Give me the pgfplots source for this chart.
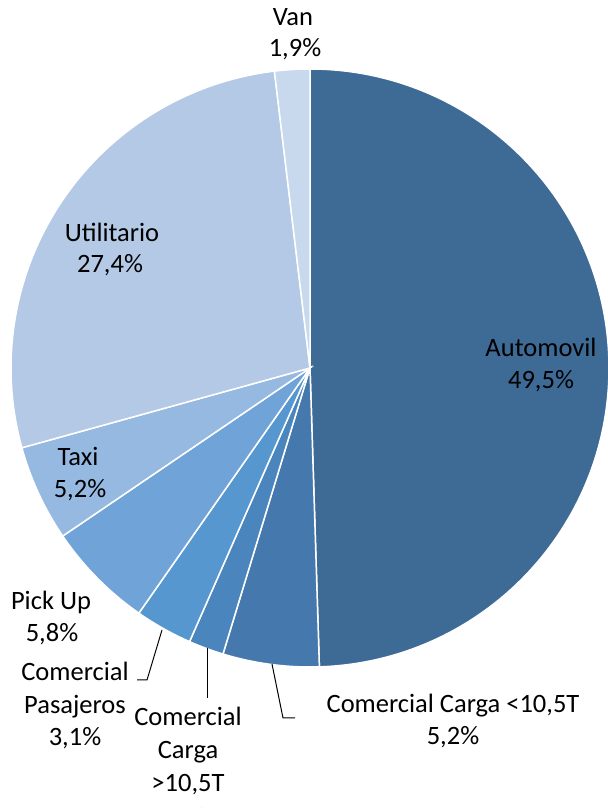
\documentclass[border=0pt]{standalone}
\usepackage{pgfplots}
\usepackage{pgfplotstable}
\pgfplotsset{compat=1.18}
\usepackage{fontspec}
\setmainfont{Carlito}

\definecolor{cA}{RGB}{62,106,150}
\definecolor{cB}{RGB}{69,121,174}
\definecolor{cC}{RGB}{75,133,190}
\definecolor{cD}{RGB}{86,151,208}
\definecolor{cE}{RGB}{112,164,216}
\definecolor{cF}{RGB}{149,185,225}
\definecolor{cG}{RGB}{180,201,229}
\definecolor{cH}{RGB}{200,217,238}

\tikzset{lab/.style={anchor=base, inner sep=0pt, font=\fontsize{26.5bp}{31bp}\selectfont, text=black}}

\pgfplotstableread{
label value
Automovil 49.5
CargaMenor 5.2
CargaMayor 1.9
Pasajeros 3.1
PickUp 5.8
Taxi 5.2
Utilitario 27.4
Van 1.9
}\piedata

% cumulative angles (clockwise from 12 o'clock)
\def\aA{0}
\pgfplotstablegetelem{0}{value}\of\piedata \pgfmathsetmacro\aB{\aA+3.6*\pgfplotsretval}
\pgfplotstablegetelem{1}{value}\of\piedata \pgfmathsetmacro\aC{\aB+3.6*\pgfplotsretval}
\pgfplotstablegetelem{2}{value}\of\piedata \pgfmathsetmacro\aD{\aC+3.6*\pgfplotsretval}
\pgfplotstablegetelem{3}{value}\of\piedata \pgfmathsetmacro\aE{\aD+3.6*\pgfplotsretval}
\pgfplotstablegetelem{4}{value}\of\piedata \pgfmathsetmacro\aF{\aE+3.6*\pgfplotsretval}
\pgfplotstablegetelem{5}{value}\of\piedata \pgfmathsetmacro\aG{\aF+3.6*\pgfplotsretval}
\pgfplotstablegetelem{6}{value}\of\piedata \pgfmathsetmacro\aH{\aG+3.6*\pgfplotsretval}
\pgfplotstablegetelem{7}{value}\of\piedata \pgfmathsetmacro\aI{\aH+3.6*\pgfplotsretval}

\def\cx{310}
\def\cy{440}
\def\R{299}

\newcommand\sector[3]{% color, from, to
  \fill[#1, draw=white, line width=1.5bp]
    (axis cs:\cx,\cy) -- (axis cs:{\cx+\R*sin(#2)},{\cy+\R*cos(#2)})
    arc[start angle={90-#2}, end angle={90-#3}, radius=\R bp] -- cycle;
}

\begin{document}
\begin{tikzpicture}
\useasboundingbox (0,0) rectangle (608bp,808bp);
\begin{axis}[
  at={(0,0)}, anchor=origin,
  x=1bp, y=1bp,
  xmin=0, xmax=608, ymin=0, ymax=808,
  hide axis, clip=false,
]
\sector{cA}{\aA}{\aB}
\sector{cB}{\aB}{\aC}
\sector{cC}{\aC}{\aD}
\sector{cD}{\aD}{\aE}
\sector{cE}{\aE}{\aF}
\sector{cF}{\aF}{\aG}
\sector{cG}{\aG}{\aH}
\sector{cH}{\aH}{\aI}

% leader lines
\draw[black, line width=1bp] (axis cs:272,{808-664}) -- (axis cs:283,{808-718}) -- (axis cs:295,{808-718});
\draw[black, line width=1bp] (axis cs:207,{808-648}) -- (axis cs:207,{808-698});
\draw[black, line width=1bp] (axis cs:162,{808-630}) -- (axis cs:147,{808-680}) -- (axis cs:137,{808-680});

% labels
\node[lab] at (axis cs:293,{808-26}) {Van};
\node[lab] at (axis cs:295,{808-57}) {1,9\%};
\node[lab] at (axis cs:112,{808-242}) {Utilitario};
\node[lab] at (axis cs:110,{808-273}) {27,4\%};
\node[lab] at (axis cs:541,{808-357}) {Automovil};
\node[lab] at (axis cs:541,{808-389}) {49,5\%};
\node[lab] at (axis cs:78,{808-465}) {Taxi};
\node[lab] at (axis cs:80,{808-497}) {5,2\%};
\node[lab] at (axis cs:51,{808-609}) {Pick Up};
\node[lab] at (axis cs:52,{808-641}) {5,8\%};
\node[lab] at (axis cs:75,{808-680}) {Comercial};
\node[lab] at (axis cs:75,{808-713}) {Pasajeros};
\node[lab] at (axis cs:75,{808-745}) {3,1\%};
\node[lab] at (axis cs:188,{808-725}) {Comercial};
\node[lab] at (axis cs:188,{808-758}) {Carga};
\node[lab] at (axis cs:188,{808-791}) {>10,5T};
\node[lab] at (axis cs:190,{808-826}) {1,9\%};
\node[lab] at (axis cs:453,{808-712}) {Comercial Carga <10,5T};
\node[lab] at (axis cs:453,{808-744}) {5,2\%};
\end{axis}
\end{tikzpicture}
\end{document}
